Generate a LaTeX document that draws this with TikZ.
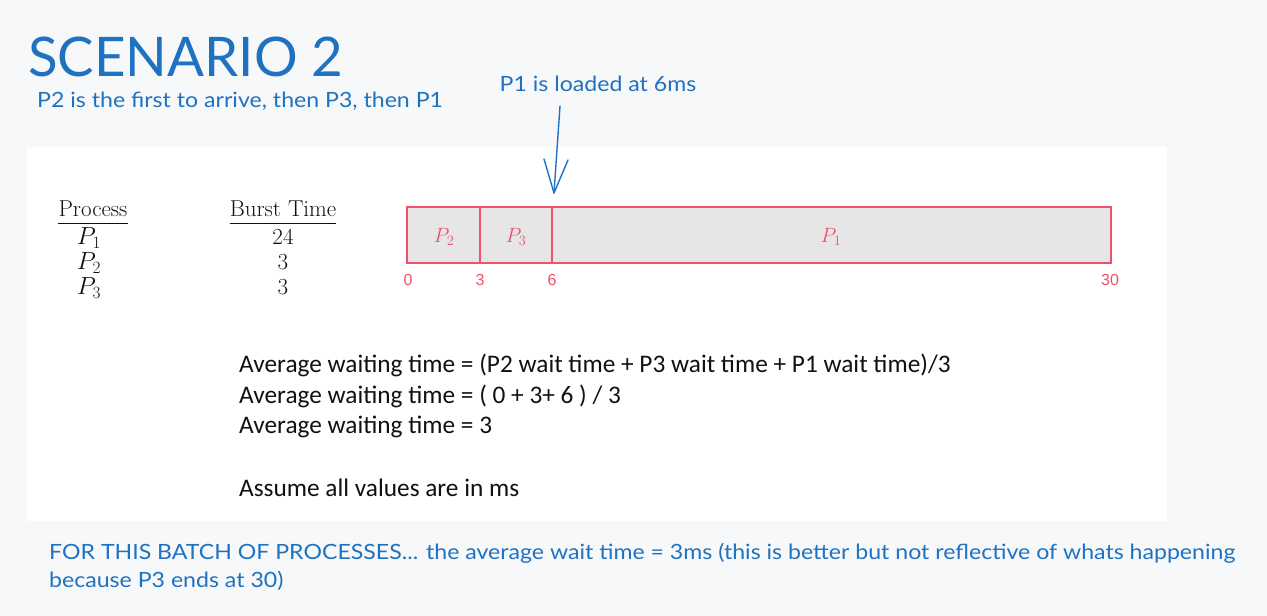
\documentclass[tikz,border=0pt]{standalone}
\usepackage{fontspec}
\setmainfont{Latin Modern Roman}
\newfontfamily\titlefnt{Lato}
\newfontfamily\bluefnt[FakeStretch=1.1]{Lato}
\newfontfamily\calfnt{Carlito}
\newfontfamily\helfnt{Liberation Sans}
\definecolor{bg}{HTML}{F7F8FA}
\definecolor{ttl}{HTML}{1F72C0}
\definecolor{gred}{HTML}{F0506A}
\definecolor{gfill}{HTML}{E6E6E6}
\definecolor{txt}{HTML}{111111}
\tikzset{
  bluetxt/.style={text=ttl, inner sep=0pt, font=\bluefnt\fontsize{21bp}{24bp}\selectfont},
  plain/.style={inner sep=0pt, text=txt, font=\calfnt\fontsize{25.3bp}{28bp}\selectfont},
  slot/.style={draw=gred, fill=gfill, line width=1.1bp},
  tick/.style={inner sep=0pt, text=gred, font=\helfnt\fontsize{16bp}{18bp}\selectfont},
  plbl/.style={inner sep=0pt, text=gred, font=\fontsize{22bp}{24bp}\selectfont},
  tbl/.style={inner sep=0pt, text=txt, font=\fontsize{23bp}{26bp}\selectfont},
}
\begin{document}
\begin{tikzpicture}[x=1bp,y=-1bp]
\fill[bg] (0,0) rectangle (1267,616);
\useasboundingbox (0,0) rectangle (1267,616);
\fill[white] (27,147) rectangle (1167,521);

% titles
\node[text=ttl, inner sep=0pt, anchor=base west, font=\titlefnt\fontsize{54.6bp}{58bp}\selectfont] (title) at (28,77) {SCENARIO 2};
\node[bluetxt, anchor=base west] (sub) at (37,108) {P2 is the first to arrive, then P3, then P1};
\node[bluetxt, anchor=base] (load) at (598,92) {P1 is loaded at 6ms};

% table
\node[tbl, anchor=base] (proc) at (93,217) {Process};
\draw[txt, line width=0.9bp] (proc.south west |- 0,223) -- (proc.south east |- 0,223);
\node[tbl, anchor=base] (burst) at (283,217) {Burst Time};
\draw[txt, line width=0.9bp] (burst.south west |- 0,223) -- (burst.south east |- 0,223);
\node[tbl, anchor=base] (p1) at (89,245) {$P_1$};
\node[tbl, anchor=base] (p2) at (89,270) {$P_2$};
\node[tbl, anchor=base] (p3) at (89,295) {$P_3$};
\node[tbl, anchor=base] (b1) at (283,245) {24};
\node[tbl, anchor=base] (b2) at (283,270) {3};
\node[tbl, anchor=base] (b3) at (283,295) {3};

% gantt
\draw[slot] (407,207) rectangle (480,263);
\draw[slot] (480,207) rectangle (552,263);
\draw[slot] (552,207) rectangle (1111,263);
\node[plbl] (g2) at (444,237) {$P_2$};
\node[plbl] (g3) at (516,237) {$P_3$};
\node[plbl] (g1) at (831,237) {$P_1$};
\node[tick, anchor=base] (t0) at (408,286) {0};
\node[tick, anchor=base] (t3) at (480,286) {3};
\node[tick, anchor=base] (t6) at (552,286) {6};
\node[tick, anchor=base] (t30) at (1110,286) {30};

% arrow
\coordinate (atop) at (560,106);
\coordinate (atip) at (554,193);
\draw[ttl, line width=1.4bp, line cap=round] (atop) -- (atip);
\draw[ttl, line width=1.4bp, line cap=round, line join=round] (544,159) -- (atip) -- (568,160);

% formulas
\node[plain, anchor=base west] (f1) at (239,373) {Average waiting time = (P2 wait time + P3 wait time + P1 wait time)/3};
\node[plain, anchor=base west] (f2) at (239,403) {Average waiting time = ( 0 + 3+ 6 ) / 3};
\node[plain, anchor=base west] (f3) at (239,433) {Average waiting time = 3};
\node[plain, anchor=base west] (f4) at (239,496) {Assume all values are in ms};

% footer
\node[bluetxt, anchor=base west] (foot1) at (49,559) {FOR THIS BATCH OF PROCESSES... the average wait time = 3ms (this is better but not reflective of whats happening};
\node[bluetxt, anchor=base west] (foot2) at (49,587) {because P3 ends at 30)};
\end{tikzpicture}
\end{document}
